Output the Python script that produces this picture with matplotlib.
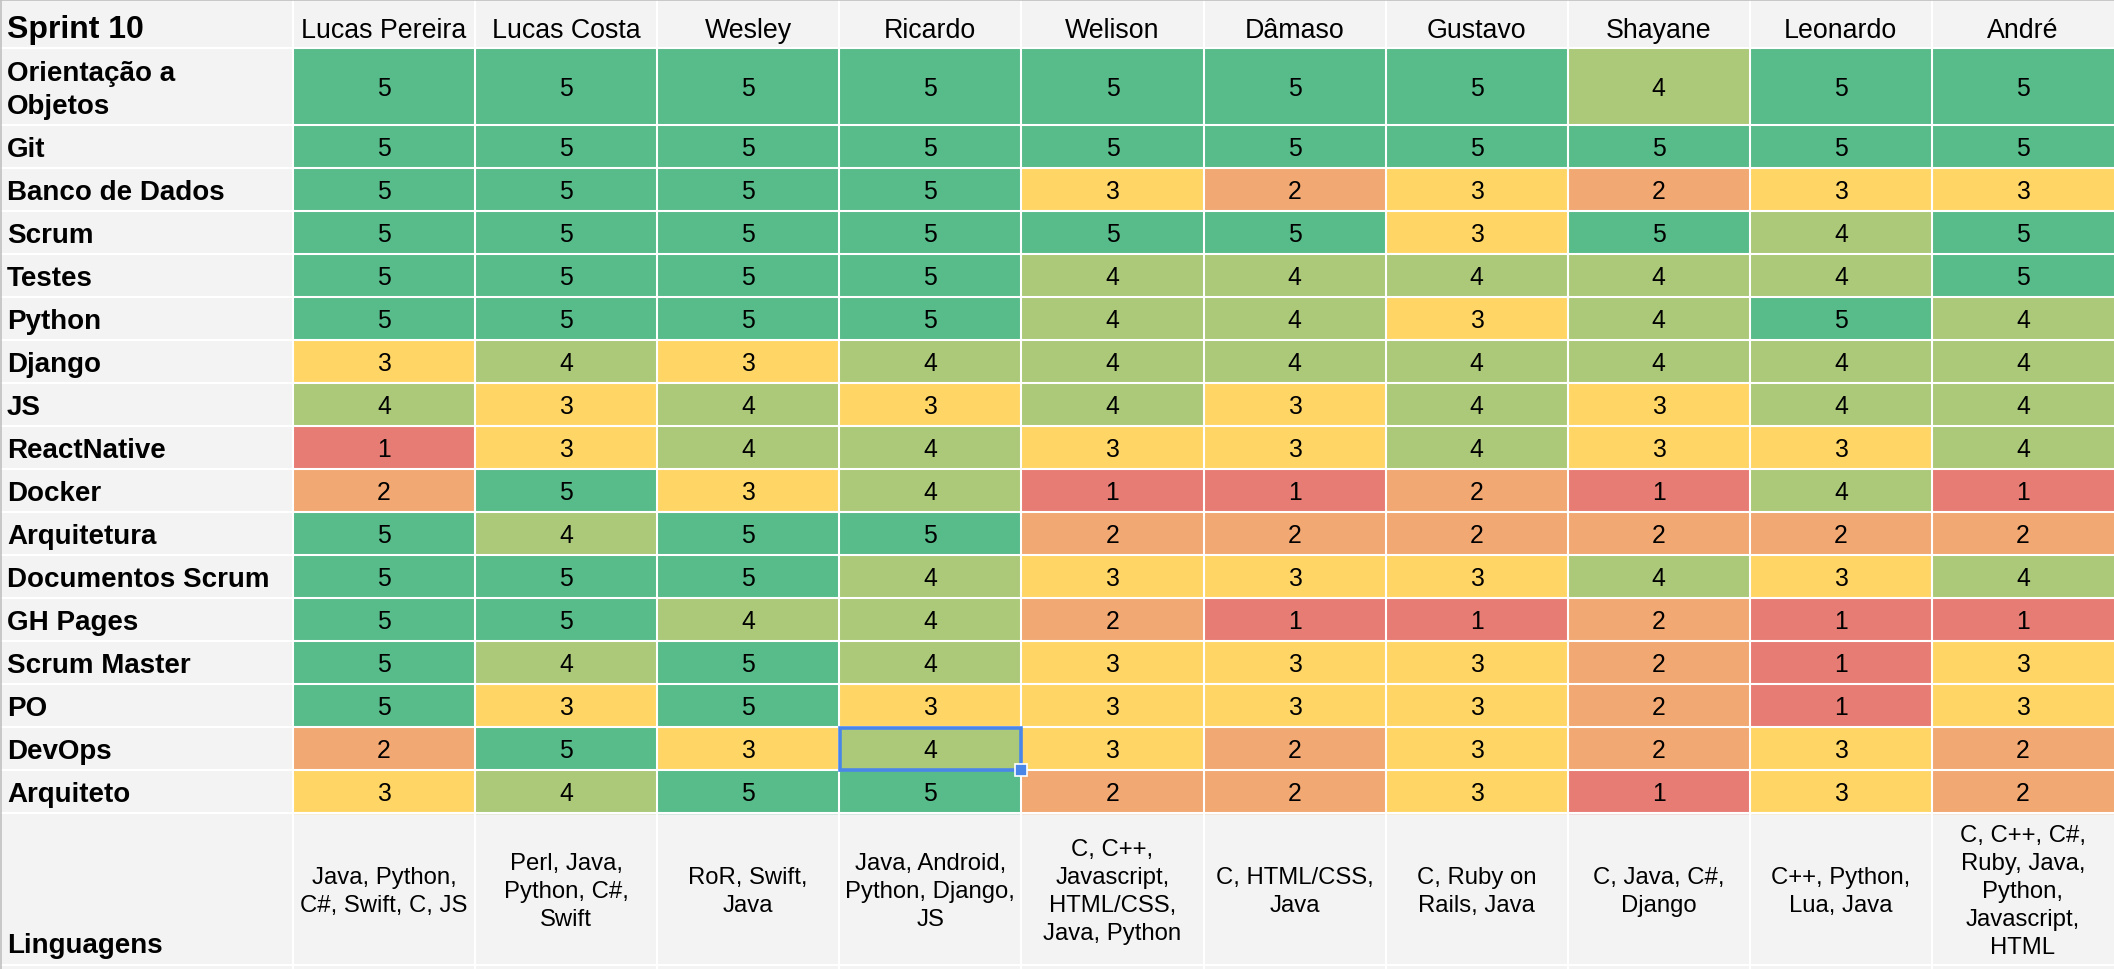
"""Skill matrix for Sprint 10, drawn as a spreadsheet-like heat table."""

import matplotlib.pyplot as plt
from matplotlib.patches import Rectangle

plt.rcParams["font.family"] = ["Liberation Sans", "DejaVu Sans"]

TITLE = "Sprint 10"
PEOPLE = ["Lucas Pereira", "Lucas Costa", "Wesley", "Ricardo", "Welison",
          "Dâmaso", "Gustavo", "Shayane", "Leonardo", "André"]
SKILLS = ["Orientação a\nObjetos", "Git", "Banco de Dados", "Scrum", "Testes",
          "Python", "Django", "JS", "ReactNative", "Docker", "Arquitetura",
          "Documentos Scrum", "GH Pages", "Scrum Master", "PO", "DevOps",
          "Arquiteto"]
SCORES = [
    [5, 5, 5, 5, 5, 5, 5, 4, 5, 5],
    [5, 5, 5, 5, 5, 5, 5, 5, 5, 5],
    [5, 5, 5, 5, 3, 2, 3, 2, 3, 3],
    [5, 5, 5, 5, 5, 5, 3, 5, 4, 5],
    [5, 5, 5, 5, 4, 4, 4, 4, 4, 5],
    [5, 5, 5, 5, 4, 4, 3, 4, 5, 4],
    [3, 4, 3, 4, 4, 4, 4, 4, 4, 4],
    [4, 3, 4, 3, 4, 3, 4, 3, 4, 4],
    [1, 3, 4, 4, 3, 3, 4, 3, 3, 4],
    [2, 5, 3, 4, 1, 1, 2, 1, 4, 1],
    [5, 4, 5, 5, 2, 2, 2, 2, 2, 2],
    [5, 5, 5, 4, 3, 3, 3, 4, 3, 4],
    [5, 5, 4, 4, 2, 1, 1, 2, 1, 1],
    [5, 4, 5, 4, 3, 3, 3, 2, 1, 3],
    [5, 3, 5, 3, 3, 3, 3, 2, 1, 3],
    [2, 5, 3, 4, 3, 2, 3, 2, 3, 2],
    [3, 4, 5, 5, 2, 2, 3, 1, 3, 2],
]
LANG_LABEL = "Linguagens"
LANGUAGES = [
    "Java, Python,\nC#, Swift, C, JS",
    "Perl, Java,\nPython, C#,\nSwift",
    "RoR, Swift,\nJava",
    "Java, Android,\nPython, Django,\nJS",
    "C, C++,\nJavascript,\nHTML/CSS,\nJava, Python",
    "C, HTML/CSS,\nJava",
    "C, Ruby on\nRails, Java",
    "C, Java, C#,\nDjango",
    "C++, Python,\nLua, Java",
    "C, C++, C#,\nRuby, Java,\nPython,\nJavascript,\nHTML",
]
SELECTED = ("DevOps", "Ricardo")

SCORE_COLORS = {1: "#e67c73", 2: "#f1a873", 3: "#ffd666", 4: "#abc978", 5: "#57bb8a"}
HEADER_BG = "#f3f3f3"

# layout in pixels
W, H = 2114, 970
LABEL_W = 293
COL_W = (W - LABEL_W) / len(PEOPLE)
HEADER_H = 49
TALL_ROW_H = 76.5
ROW_H = 43.0
LANG_ROW_H = 152.5


def _lines(ax, x, yc, text, size, pitch, ha="center", weight="normal"):
    """Draw a possibly multi-line label, vertically centred on yc."""
    rows = text.split("\n")
    cap = 0.716 * size / 0.72
    top = yc - (len(rows) - 1) / 2 * pitch
    for i, line in enumerate(rows):
        ax.text(x, top + i * pitch + cap / 2, line, ha=ha, va="baseline",
                fontsize=size, fontweight=weight, color="black")


def main():
    fig = plt.figure(figsize=(W / 100, H / 100), dpi=100)
    ax = fig.add_axes([0, 0, 1, 1])
    ax.set_xlim(0, W)
    ax.set_ylim(H, 0)
    ax.axis("off")
    ax.add_patch(Rectangle((0, 0), W, H, color=HEADER_BG, zorder=0))

    # row edges
    heights = [TALL_ROW_H if "\n" in s else ROW_H for s in SKILLS]
    edges = [HEADER_H]
    for h in heights:
        edges.append(edges[-1] + h)
    lang_top = edges[-1]
    lang_bottom = lang_top + LANG_ROW_H
    col_x = [LABEL_W + j * COL_W for j in range(len(PEOPLE) + 1)]

    # header
    ax.text(7, 38, TITLE, fontsize=23, fontweight="bold", va="baseline")
    for j, name in enumerate(PEOPLE):
        ax.text(col_x[j] + COL_W / 2, 38, name, fontsize=19.3, ha="center", va="baseline")

    # score cells
    for i, skill in enumerate(SKILLS):
        y0, y1 = edges[i], edges[i + 1]
        yc = (y0 + y1) / 2
        _lines(ax, 7, yc, skill, 20, 33, ha="left", weight="bold")
        for j, score in enumerate(SCORES[i]):
            ax.add_patch(Rectangle((col_x[j], y0), COL_W, y1 - y0,
                                   color=SCORE_COLORS[score], zorder=1))
            _lines(ax, col_x[j] + COL_W / 2, yc, str(score), 17.8, 28)

    # languages row
    ax.text(7, lang_bottom - 13, LANG_LABEL, fontsize=20, fontweight="bold", va="baseline")
    lang_c = (lang_top + lang_bottom) / 2
    for j, langs in enumerate(LANGUAGES):
        _lines(ax, col_x[j] + COL_W / 2, lang_c, langs, 17.2, 28)

    # white grid
    for y in [HEADER_H] + edges[1:] + [lang_bottom]:
        ax.plot([0, W], [y, y], color="white", lw=1.5, zorder=2, solid_capstyle="butt")
    for x in col_x[:-1]:
        ax.plot([x, x], [0, H], color="white", lw=1.5, zorder=2, solid_capstyle="butt")
    ax.plot([0, W], [0.5, 0.5], color="#c0c0c0", lw=1.2, zorder=3)
    ax.plot([0.5, 0.5], [0, H], color="#c0c0c0", lw=1.2, zorder=3)

    # active cell selection
    r = SKILLS.index(SELECTED[0])
    c = PEOPLE.index(SELECTED[1])
    sx, sy = col_x[c], edges[r]
    ax.add_patch(Rectangle((sx + 1, sy + 1), COL_W - 1, edges[r + 1] - sy - 1,
                           fill=False, edgecolor="#4a86e8", lw=2.6, zorder=4))
    ax.add_patch(Rectangle((sx + COL_W - 6, edges[r + 1] - 6), 12, 12,
                           facecolor="#4a86e8", edgecolor="white", lw=1.2, zorder=5))

    fig.savefig("out.png", dpi=100)
    plt.close(fig)


if __name__ == "__main__":
    main()
